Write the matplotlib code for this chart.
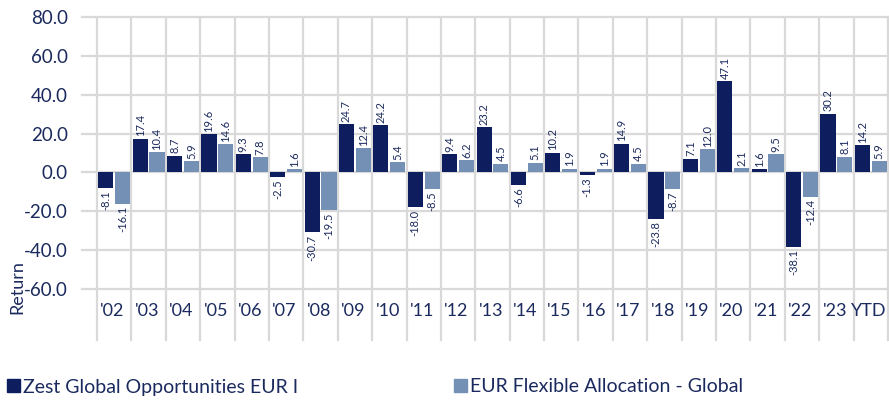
import matplotlib
matplotlib.use("Agg")
import matplotlib.pyplot as plt
from matplotlib.patches import Patch
import numpy as np

categories = ["'02", "'03", "'04", "'05", "'06", "'07", "'08", "'09", "'10", "'11", "'12",
              "'13", "'14", "'15", "'16", "'17", "'18", "'19", "'20", "'21", "'22", "'23", "YTD"]
zest = [-8.1, 17.4, 8.7, 19.6, 9.3, -2.5, -30.7, 24.7, 24.2, -18.0, 9.4, 23.2, -6.6,
        10.2, -1.3, 14.9, -23.8, 7.1, 47.1, 1.6, -38.1, 30.2, 14.2]
flex = [-16.1, 10.4, 5.9, 14.6, 7.8, 1.6, -19.5, 12.4, 5.4, -8.5, 6.2, 4.5, 5.1,
        1.9, 1.9, 4.5, -8.7, 12.0, 2.1, 9.5, -12.4, 8.1, 5.9]
series_names = ["Zest Global Opportunities EUR I", "EUR Flexible Allocation - Global"]
yticks = [-60, -40, -20, 0, 20, 40, 60, 80]

DARK = "#0D1D5E"
LIGHT = "#7490B5"
TXT = "#1B2A5E"
GRID = "#D9D9D9"
FONT = "Lato"

plt.rcParams['font.family'] = [FONT, 'DejaVu Sans']

W, H = 889, 401
fig = plt.figure(figsize=(W / 100, H / 100), dpi=100)
ax = fig.add_axes([82 / W, 1 - 340 / H, (889 - 82) / W, (340 - 17) / H])

n = len(categories)
x = np.arange(n)
ax.set_xlim(-0.5 - 15 / 34.39, n - 0.5 + 1 / 34.39)
ax.set_ylim(-86.2, 80)

# grid
for yv in yticks:
    ax.axhline(yv, color=GRID, lw=1.6, zorder=0, clip_on=False)
for b in np.arange(-0.5, n, 1.0):
    ax.axvline(b, color=GRID, lw=1.6, zorder=0, clip_on=False)

bw = 0.44
off = 0.245
ax.bar(x - off, zest, bw, color=DARK, zorder=2, label=series_names[0])
ax.bar(x + off, flex, bw, color=LIGHT, zorder=2, label=series_names[1])

pad = 1.2
for xs, vals in ((x - off, zest), (x + off, flex)):
    for xi, v in zip(xs, vals):
        if v >= 0:
            ax.text(xi, v + pad, f"{v:.1f}", rotation=90, ha='center', va='bottom',
                    fontsize=8, color=TXT, zorder=3)
        else:
            ax.text(xi, v - pad, f"{v:.1f}", rotation=90, ha='center', va='top',
                    fontsize=8, color=TXT, zorder=3)

for xi, c in zip(x, categories):
    ax.text(xi - 0.05, -71.5, c, ha='center', va='center', fontsize=13, color=TXT)

ax.set_xticks([])
ax.set_yticks(yticks)
ax.set_yticklabels([f"{v:.1f}" for v in yticks], fontsize=13.5, color=TXT)
ax.tick_params(axis='y', length=0, pad=10)
for s in ax.spines.values():
    s.set_visible(False)

fig.text(17 / W, 1 - 287 / H, "Return", rotation=90, ha='center', va='center',
         fontsize=13, color=TXT)

handles = [Patch(color=DARK), Patch(color=LIGHT)]
leg = fig.legend(handles, series_names, loc='center left', bbox_to_anchor=(7 / W, 1 - 387 / H),
                 ncol=2, frameon=False, fontsize=14, handlelength=0.67, handleheight=0.67,
                 handletextpad=0.15, columnspacing=8.0, borderpad=0, borderaxespad=0)
for t in leg.get_texts():
    t.set_color(TXT)

fig.savefig("out.png", dpi=100)
